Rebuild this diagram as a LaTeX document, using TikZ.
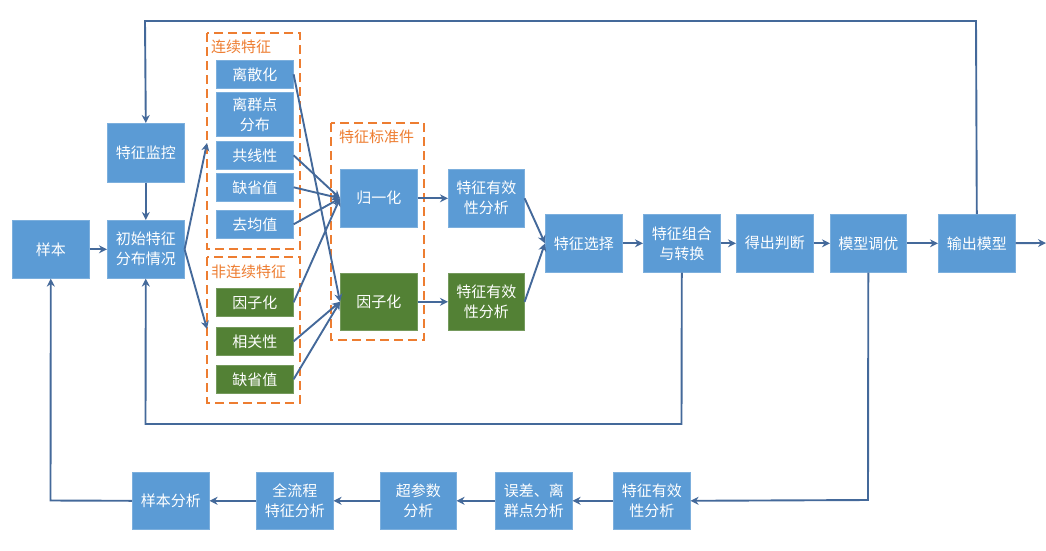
\documentclass[tikz,border=0pt]{standalone}
\usepackage{fontspec}
\setmainfont{Noto Sans CJK SC}
\usetikzlibrary{arrows.meta}
\definecolor{bbox}{HTML}{5B9BD5}
\definecolor{gbox}{HTML}{538135}
\definecolor{ln}{HTML}{44699A}
\definecolor{og}{HTML}{ED7D31}
\tikzset{
  bx/.style={fill=bbox, draw=bbox!80!white, line width=0.6pt, text=white, font=\fontsize{15}{20}\selectfont, align=center, inner sep=0pt, anchor=north west},
  gx/.style={bx, fill=gbox, draw=gbox!80!white},
  grp/.style={draw=og, line width=2.2pt, dash pattern=on 9pt off 5pt},
  glabel/.style={text=og, font=\fontsize{15}{18}\selectfont, anchor=west, inner sep=0pt},
  ar/.style={draw=ln, line width=1.9pt, -{Stealth[length=8pt,width=8pt]}},
}
\newcommand{\bxat}[7]{\node[#1, minimum width=#5pt, minimum height=#6pt] (#2) at (#3,#4) {#7};}
\begin{document}
\begin{tikzpicture}[x=1pt,y=-1pt]
\useasboundingbox (0,0) rectangle (1046,550);
% groups
\draw[grp] (207,33) rectangle (300,249);
\node[glabel] (lc) at (211,47) {连续特征};
\draw[grp] (207,257) rectangle (300,403);
\node[glabel] (lnc) at (211,272) {非连续特征};
\draw[grp] (331,123) rectangle (424,340);
\node[glabel] (lstd) at (339,137) {特征标准件};
% left
\bxat{bx}{yb}{12}{220}{77}{58}{样本}
\bxat{bx}{init}{107}{220}{77}{58}{初始特征\\分布情况}
\bxat{bx}{mon}{107}{123}{77}{59}{特征监控}
% continuous
\bxat{bx}{c1}{216}{60}{77}{28}{离散化}
\bxat{bx}{c2}{216}{92}{77}{44}{离群点\\分布}
\bxat{bx}{c3}{216}{141}{77}{28}{共线性}
\bxat{bx}{c4}{216}{173}{77}{28}{缺省值}
\bxat{bx}{c5}{216}{210}{77}{28}{去均值}
% non-continuous
\bxat{gx}{d1}{216}{288}{77}{28}{因子化}
\bxat{gx}{d2}{216}{327}{77}{28}{相关性}
\bxat{gx}{d3}{216}{365}{77}{28}{缺省值}
% standard
\bxat{bx}{norm}{340}{169}{77}{58}{归一化}
\bxat{gx}{fac}{340}{273}{77}{57}{因子化}
\bxat{bx}{va}{448}{169}{76}{58}{特征有效\\性分析}
\bxat{gx}{vb}{448}{273}{76}{57}{特征有效\\性分析}
% main row
\bxat{bx}{sel}{545}{214}{77}{58}{特征选择}
\bxat{bx}{comb}{643}{214}{77}{58}{特征组合\\与转换}
\bxat{bx}{judge}{736}{214}{77}{58}{得出判断}
\bxat{bx}{tune}{830}{214}{76}{58}{模型调优}
\bxat{bx}{out}{938}{214}{77}{58}{输出模型}
% bottom row
\bxat{bx}{e1}{613}{472}{77}{57}{特征有效\\性分析}
\bxat{bx}{e2}{495}{472}{77}{57}{误差、离\\群点分析}
\bxat{bx}{e3}{380}{472}{76}{57}{超参数\\分析}
\bxat{bx}{e4}{256}{472}{77}{57}{全流程\\特征分析}
\bxat{bx}{e5}{132}{472}{77}{57}{样本分析}
\coordinate (edge) at (1046,243);
% connectors
\draw[ar] (mon) -- (init);
\draw[ar] (yb) -- (init);
\draw[ar] (init.east) -- (207,143);
\draw[ar] (init.east) -- (207,329);
\draw[ar] (c1.east) -- (fac.west);
\draw[ar] (c3.east) -- (norm.west);
\draw[ar] (c4.east) -- (norm.west);
\draw[ar] (c5.east) -- (norm.west);
\draw[ar] (d1.east) -- (norm.west);
\draw[ar] (d2.east) -- (fac.west);
\draw[ar] (d3.east) -- (fac.west);
\draw[ar] (norm) -- (va);
\draw[ar] (fac) -- (vb);
\draw[ar] (va.east) -- (sel.west);
\draw[ar] (vb.east) -- (sel.west);
\draw[ar] (sel) -- (comb);
\draw[ar] (comb) -- (judge);
\draw[ar] (judge) -- (tune);
\draw[ar] (tune) -- (out);
\draw[ar] (out) -- (edge);
\draw[ar] (out.north) -- (976,21) -- (145,21) -- (mon.north);
\draw[ar] (comb.south) -- (681.5,424) -- (145.5,424) -- (init.south);
\draw[ar] (tune.south) -- (868,500) -- (e1.east);
\draw[ar] (e1) -- (e2);
\draw[ar] (e2) -- (e3);
\draw[ar] (e3) -- (e4);
\draw[ar] (e4) -- (e5);
\draw[ar] (e5.west) -- (50.5,500.5) -- (yb.south);
\end{tikzpicture}
\end{document}
